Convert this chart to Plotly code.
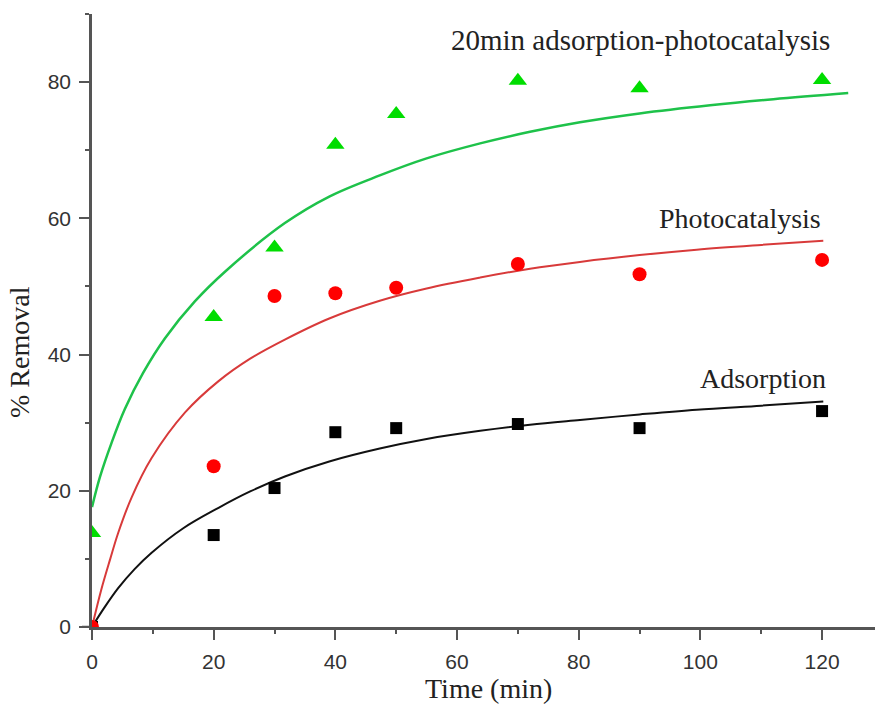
import plotly.graph_objects as go

# measured data points
time_pts = [0, 20, 30, 40, 50, 70, 90, 120]
adsorption = [0, 13.5, 20.4, 28.6, 29.2, 29.8, 29.2, 31.7]
photocatalysis = [0, 23.6, 48.6, 49.0, 49.8, 53.3, 51.8, 53.9]
combined = [13.8, 45.5, 55.7, 70.8, 75.3, 80.2, 79.1, 80.3]

# fitted curves
fit_t_ads = [0, 2, 4.3, 7, 9.8, 15, 20.8, 26, 31.7, 39, 47.3, 55, 63.8, 72, 80.2, 90, 99.4, 110, 120.2]
fit_ads = [0, 2.8, 5.7, 8.5, 10.9, 14.5, 17.5, 19.9, 22.1, 24.3, 26.2, 27.6, 28.8, 29.7, 30.4, 31.2, 31.9, 32.5, 33.1]
fit_t_pho = [0, 1.5, 3, 4.3, 6.5, 9.8, 15.3, 20.8, 26, 31.7, 39, 47.3, 55, 63.8, 72, 80.2, 90, 99.4, 110, 120.2]
fit_pho = [0, 5.4, 10.0, 13.8, 19.0, 24.8, 31.5, 36.1, 39.4, 42.2, 45.3, 47.9, 49.7, 51.3, 52.6, 53.6, 54.6, 55.4, 56.1, 56.7]
fit_t_com = [0, 1.3, 3.2, 5.4, 8.4, 12.0, 16.9, 21.9, 31.7, 39, 47.3, 55, 63.8, 72, 80.2, 90, 101.6, 112, 124.3]
fit_com = [17.6, 22.0, 27.0, 32.0, 37.3, 42.4, 47.8, 52.2, 59.3, 63.2, 66.3, 68.8, 71.0, 72.7, 74.1, 75.4, 76.6, 77.5, 78.4]

labels = ["20min adsorption-photocatalysis", "Photocatalysis", "Adsorption"]

fig = go.Figure()
fig.add_trace(go.Scatter(x=fit_t_ads, y=fit_ads, mode="lines", line=dict(color="#111111", width=2, shape="spline", smoothing=1), showlegend=False))
fig.add_trace(go.Scatter(x=fit_t_pho, y=fit_pho, mode="lines", line=dict(color="#d83a3a", width=2, shape="spline", smoothing=1), showlegend=False))
fig.add_trace(go.Scatter(x=fit_t_com, y=fit_com, mode="lines", line=dict(color="#1ec24a", width=2.5, shape="spline", smoothing=1), showlegend=False))
fig.add_trace(go.Scatter(x=time_pts, y=adsorption, mode="markers", marker=dict(symbol="square", size=12, color="#000000"), showlegend=False))
fig.add_trace(go.Scatter(x=time_pts, y=photocatalysis, mode="markers", marker=dict(symbol="circle", size=14, color="#ff0000"), showlegend=False))
fig.add_trace(go.Scatter(x=time_pts, y=combined, mode="markers", marker=dict(symbol="triangle-up", size=16, color="#00dd00"), showlegend=False))

serif = "Liberation Serif, Times New Roman, serif"
axcol = "#555555"
fig.update_layout(
    width=875, height=704,
    margin=dict(l=92, r=0, t=14, b=77),
    plot_bgcolor="white", paper_bgcolor="white",
    font=dict(family="Liberation Sans, Arial, sans-serif", size=21, color="#333333"),
    xaxis=dict(range=[0, 128.7], showgrid=False, zeroline=False, showline=True, linecolor=axcol, linewidth=2.5,
               ticks="outside", ticklen=10, tickwidth=2, tickcolor=axcol, dtick=20, tick0=0,
               minor=dict(ticks="outside", ticklen=4, tickwidth=2, tickcolor=axcol, dtick=10),
               ticklabelstandoff=4),
    yaxis=dict(range=[0, 90], showgrid=False, zeroline=False, showline=True, linecolor=axcol, linewidth=2.5,
               ticks="outside", ticklen=10, tickwidth=2, tickcolor=axcol, dtick=20, tick0=0,
               minor=dict(ticks="outside", ticklen=4, tickwidth=2, tickcolor=axcol, dtick=10),
               ticklabelstandoff=4),
    shapes=[dict(type="line", xref="paper", yref="y", x0=-10/783, x1=0, y0=0, y1=0,
                 line=dict(color=axcol, width=2.5))],
    annotations=[
        dict(x=121.7, y=86.2, xref="x", yref="y", text=labels[0], showarrow=False, xanchor="right",
             font=dict(family=serif, size=29, color="#222222")),
        dict(x=120.2, y=60.0, xref="x", yref="y", text=labels[1], showarrow=False, xanchor="right",
             font=dict(family=serif, size=28, color="#222222")),
        dict(x=120.9, y=36.5, xref="x", yref="y", text=labels[2], showarrow=False, xanchor="right",
             font=dict(family=serif, size=28, color="#222222")),
        dict(x=(488-92)/783, y=-(688-627)/613, xref="paper", yref="paper", text="Time (min)", showarrow=False,
             xanchor="center", yanchor="middle", font=dict(family=serif, size=28, color="#222222")),
        dict(x=-(92-19)/783, y=(627-352)/613, xref="paper", yref="paper", text="% Removal", showarrow=False,
             textangle=-90, xanchor="center", yanchor="middle", font=dict(family=serif, size=28, color="#222222")),
    ],
)
fig.write_html("out.html")
